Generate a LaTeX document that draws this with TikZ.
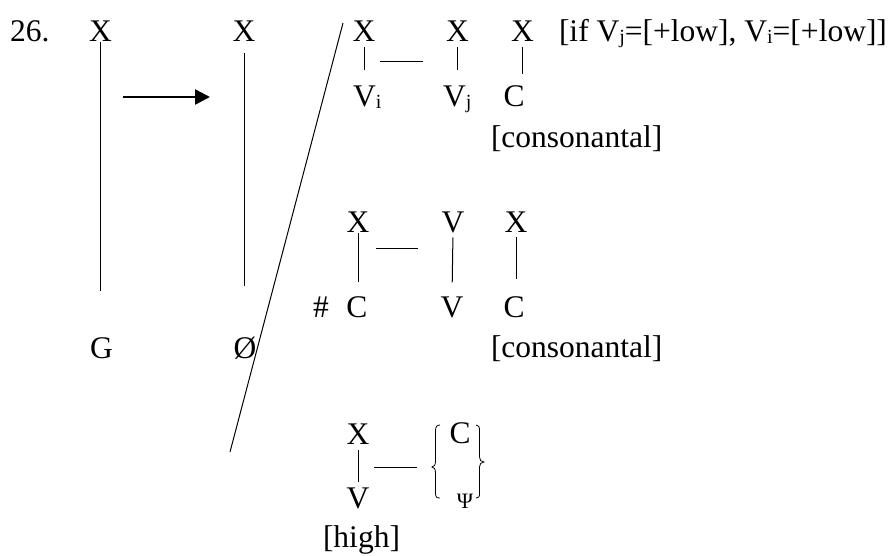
\documentclass[tikz,border=0pt]{standalone}
\usepackage{fontspec}
\setmainfont{Liberation Serif}
\usetikzlibrary{arrows.meta}
\newcommand{\sbs}[1]{{\fontsize{20}{20}\selectfont\raisebox{-2.5pt}{#1}}}
\tikzset{
  every node/.style={inner sep=0pt, outer sep=0pt, font=\fontsize{31.5}{36}\selectfont},
  lab/.style={anchor=base},
  labw/.style={anchor=base west},
  assoc/.style={line width=1pt},
  bracefig/.style={line width=0.8pt},
  bigarrow/.style={line width=2.4pt, -{Triangle[length=15pt,width=15pt]}}
}
\begin{document}
\begin{tikzpicture}[x=1pt,y=-1pt]
\useasboundingbox (0,0) rectangle (894,555);

% left part
\node[labw] (num) at (10,41) {26.};
\node[lab] (X1) at (100.5,41) {X};
\node[lab] (X2) at (244,41) {X};
\node[lab] (G) at (101.5,358) {G};
\node[lab] (O) at (245,358) {Ø};
\draw[assoc, shorten <=1pt, shorten >=46.5pt] (X1.south) -- (X1.south |- G.north);
\draw[assoc, shorten <=12pt, shorten >=51pt] (X2.south) -- (X2.south |- O.north);
\coordinate (a1) at (123,97);
\coordinate (a2) at (210,97);
\draw[bigarrow] (a1) -- (a2);

% slash
\coordinate (s1) at (343,23);
\coordinate (s2) at (230,452);
\draw[assoc] (s1) -- (s2);

% top group
\node[lab] (Xa) at (364,41) {X};
\node[lab] (Xb) at (457.5,41) {X};
\node[lab] (Xc) at (522.5,41) {X};
\node[labw] (note) at (559,41) {[if V\sbs{j}=[+low], V\sbs{i}=[+low]]};
\node[labw] (Vi) at (353,106) {V\sbs{i}};
\node[labw] (Vj) at (443,106) {V\sbs{j}};
\node[lab] (C1) at (514,106) {C};
\node[labw] (cons1) at (491,147) {[consonantal]};
\draw[assoc, shorten <=6pt, shorten >=15pt] (Xa.south) -- (Xa.south |- Vi.north);
\draw[assoc, shorten <=6pt, shorten >=15pt] (Xb.south) -- (Xb.south |- Vj.north);
\draw[assoc, shorten <=6pt, shorten >=11.5pt] (Xc.south) -- (Xc.south |- C1.north);
\coordinate (h1a) at (380,61);
\coordinate (h1b) at (423,61);
\draw[assoc] (h1a) -- (h1b);

% second group
\node[lab] (Xd) at (358,232) {X};
\node[lab] (Ve) at (453,232) {V};
\node[lab] (Xf) at (516,232) {X};
\node[labw] (hash) at (313,317) {\#};
\node[lab] (C2) at (357,317) {C};
\node[lab] (V2) at (452,317) {V};
\node[lab] (C3) at (514,317) {C};
\node[labw] (cons2) at (491,357) {[consonantal]};
\draw[assoc, shorten <=1pt, shorten >=14.5pt] (Xd.south) -- (Xd.south |- C2.north);
\draw[assoc, shorten <=5pt, shorten >=14pt] (Ve.south) -- (V2.north);
\draw[assoc, shorten <=5pt, shorten >=17.5pt] (Xf.south) -- (Xf.south |- C3.north);
\coordinate (h2a) at (376,248);
\coordinate (h2b) at (418,248);
\draw[assoc] (h2a) -- (h2b);

% third group
\node[lab] (Xg) at (358,444) {X};
\node[lab] (V3) at (358,508) {V};
\node[labw] (high) at (323,547) {[high]};
\draw[assoc, shorten <=6pt, shorten >=5pt] (Xg.south) -- (V3.north);
\coordinate (h3a) at (374,467);
\coordinate (h3b) at (417,467);
\draw[assoc] (h3a) -- (h3b);
\node[lab] (C4) at (460,443) {C};
\node[lab, font=\fontsize{22}{24}\selectfont] (Psi) at (465,508) {Ψ};
\draw[bracefig] (440,425) .. controls (436.5,425) and (435.5,427) .. (435.5,431)
  -- (435.5,461) .. controls (435.5,465) and (434,467) .. (432,467)
  .. controls (434,467) and (435.5,469) .. (435.5,473)
  -- (435.5,493) .. controls (435.5,497) and (436.5,498) .. (440,498);
\draw[bracefig] (476,425) .. controls (479,425) and (479.5,427) .. (479.5,431)
  -- (479.5,457) .. controls (479.5,460) and (481,462) .. (484,462)
  .. controls (481,462) and (479.5,464) .. (479.5,467)
  -- (479.5,493) .. controls (479.5,497) and (479,498) .. (476,498);
\end{tikzpicture}
\end{document}
